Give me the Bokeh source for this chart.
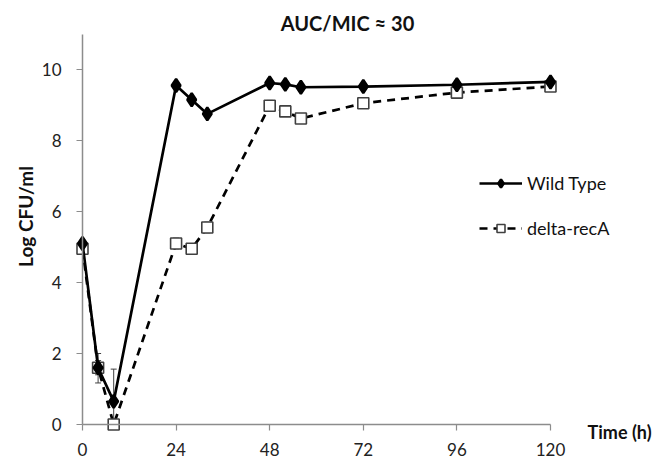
import math
from bokeh.plotting import figure
from bokeh.models import ColumnDataSource, Whisker, TeeHead, Label, Legend, LegendItem, Range1d, FixedTicker
from bokeh.embed import file_html
from bokeh.resources import INLINE

time_h = [0, 4, 8, 24, 28, 32, 48, 52, 56, 72, 96, 120]
wild_type = [5.1, 1.6, 0.65, 9.55, 9.15, 8.75, 9.62, 9.58, 9.5, 9.52, 9.57, 9.65]
wt_lower = [5.05, 1.17, 0.0, 9.5, 9.1, 8.7, 9.57, 9.53, 9.45, 9.47, 9.52, 9.6]
wt_upper = [5.15, 2.0, 1.56, 9.6, 9.2, 8.8, 9.67, 9.63, 9.55, 9.57, 9.62, 9.7]
delta_reca = [4.95, 1.6, 0.0, 5.1, 4.95, 5.55, 8.98, 8.82, 8.62, 9.05, 9.35, 9.52]
dr_lower = [4.9, 1.4, 0.0, 4.95, 4.9, 5.4, 8.83, 8.77, 8.52, 9.0, 9.3, 9.42]
dr_upper = [5.0, 1.8, 0.05, 5.25, 5.0, 5.7, 9.13, 8.87, 8.72, 9.1, 9.4, 9.62]
x_ticks = [0, 24, 48, 72, 96, 120]
y_ticks = [0, 2, 4, 6, 8, 10]
title_text = "AUC/MIC \u2248 30"
x_title = "Time (h)"
y_title = "Log CFU/ml"

FONT = "Lato"

# frame covers the whole canvas; axes sit at the data origin
p = figure(width=657, height=462, output_backend="svg", toolbar_location=None,
           x_range=Range1d(-21.026, 147.44), y_range=Range1d(-1.0704, 11.944),
           min_border_left=0, min_border_right=0, min_border_top=0, min_border_bottom=0)
p.outline_line_color = None
p.xgrid.visible = False
p.ygrid.visible = False
p.background_fill_color = "white"

for ax in (p.xaxis[0], p.yaxis[0]):
    ax.axis_line_color = "#8c8c8c"
    ax.axis_line_width = 1.5
    ax.major_tick_line_color = "#8c8c8c"
    ax.major_tick_line_width = 1.2
    ax.major_tick_in = 0
    ax.major_tick_out = 6
    ax.minor_tick_line_color = None
    ax.major_label_text_font = FONT
    ax.major_label_text_font_size = "17px"
    ax.major_label_text_color = "#222222"

p.xaxis.ticker = FixedTicker(ticks=x_ticks)
p.yaxis.ticker = FixedTicker(ticks=y_ticks)
p.xaxis.bounds = (0, 120)
p.yaxis.bounds = (0, 11)
p.xaxis.fixed_location = 0
p.yaxis.fixed_location = 0
p.xaxis.major_label_standoff = 12
p.yaxis.major_label_standoff = 15

src_dr = ColumnDataSource(dict(x=time_h, y=delta_reca, lo=dr_lower, hi=dr_upper))
src_wt = ColumnDataSource(dict(x=time_h, y=wild_type, lo=wt_lower, hi=wt_upper))

dr_line = p.line("x", "y", source=src_dr, line_color="black", line_width=2.7, line_dash="8 6")
dr_pts = p.scatter("x", "y", source=src_dr, marker="square", size=11, fill_color="white",
                   line_color="#404040", line_width=1.6)
p.add_layout(Whisker(base="x", lower="lo", upper="hi", source=src_dr, line_color="#404040",
                     line_width=1, upper_head=TeeHead(size=6, line_color="#404040", line_width=1),
                     lower_head=TeeHead(size=6, line_color="#404040", line_width=1)))

wt_line = p.line("x", "y", source=src_wt, line_color="black", line_width=2.7)
wt_pts = p.scatter("x", "y", source=src_wt, marker="diamond", size=13, fill_color="black",
                   line_color="black", line_width=2.5)
p.add_layout(Whisker(base="x", lower="lo", upper="hi", source=src_wt, line_color="#404040",
                     line_width=1, upper_head=TeeHead(size=6, line_color="#404040", line_width=1),
                     lower_head=TeeHead(size=6, line_color="#404040", line_width=1)))

legend = Legend(items=[LegendItem(label="Wild Type", renderers=[wt_line, wt_pts]),
                       LegendItem(label="delta-recA", renderers=[dr_line, dr_pts])],
                location=(479, 223), padding=0, margin=0, spacing=23,
                glyph_width=43, glyph_height=20, label_height=20, label_standoff=5,
                label_text_font=FONT, label_text_font_size="18px", label_text_color="#111111",
                border_line_color=None, background_fill_alpha=0)
p.add_layout(legend)

p.add_layout(Label(x=67.95, y=11.32, text=title_text, text_align="center", text_baseline="middle",
                   text_font=FONT, text_font_style="bold", text_font_size="20px", text_color="#111111"))
p.add_layout(Label(x=129.5, y=-0.2, text=x_title, text_align="left", text_baseline="middle",
                   text_font=FONT, text_font_style="bold", text_font_size="18px", text_color="#111111"))
p.add_layout(Label(x=-14.6, y=5.86, text=y_title, text_align="center", text_baseline="middle",
                   angle=math.pi / 2, text_font=FONT, text_font_style="bold", text_font_size="19px",
                   text_color="#111111"))

open("out.html", "w").write(file_html(p, INLINE))
